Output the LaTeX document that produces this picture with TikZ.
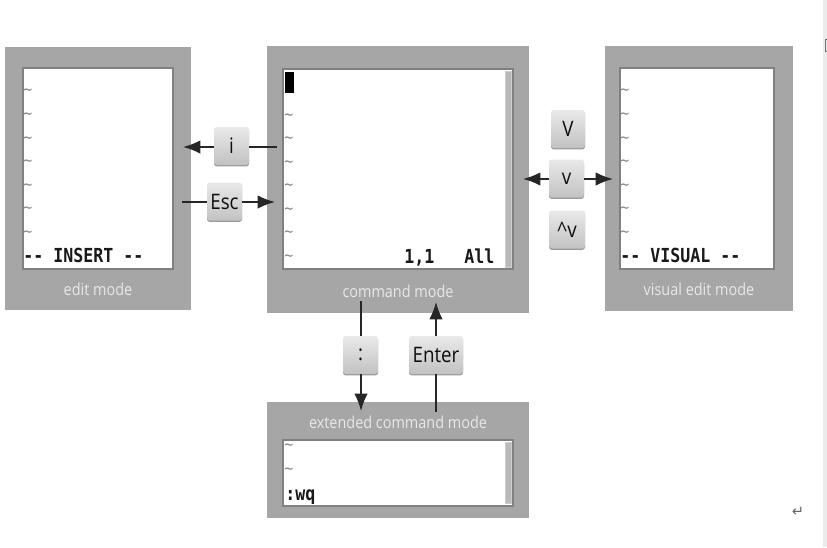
\documentclass[tikz,border=0pt]{standalone}
\usepackage{fontspec}
\setsansfont[FakeStretch=0.88]{Open Sans}
\setmonofont[FakeStretch=0.86]{DejaVu Sans Mono}
\newfontfamily\symbolfont{DejaVu Sans}
\usetikzlibrary{calc,shapes,arrows.meta,shadows}
\tikzset{
    sized/.style 2 args={minimum width=#1*0.75pt,minimum height=#2*0.75pt,inner sep=0pt,outer sep=0pt},
    panel/.style={fill=panelgray},
    screen/.style={fill=white,draw=screenedge,line width=1pt},
    modelabel/.style={text=labelgray,font=\sffamily\fontsize{12.3}{14}\selectfont,inner sep=0pt},
    keycap/.style={sized={#1}{38},rounded corners=2pt,top color=keylight,bottom color=keydark,
        general shadow={fill=keyedge,shadow yshift=-1pt},text=black!95,
        font=\sffamily\fontsize{16}{18}\selectfont},
    termtext/.style={font=\ttfamily\bfseries\fontsize{14.5}{16}\selectfont,text=black!90,inner sep=0pt},
    tilde/.style={font=\ttfamily\fontsize{13}{14}\selectfont,text=black!45,inner sep=0pt},
    scrollbar/.style={fill=barfill,draw=barfill!70,line width=0.4pt},
    flow/.style={draw=black!85,line width=1.2pt,-{Latex[length=13pt,width=10pt]}},
    plainflow/.style={draw=black!85,line width=1.2pt}
}
\definecolor{panelgray}{HTML}{A6A6A6}
\definecolor{screenedge}{HTML}{808080}
\definecolor{labelgray}{HTML}{E8E8E8}
\definecolor{keylight}{HTML}{E9E9E9}
\definecolor{keydark}{HTML}{C2C2C2}
\definecolor{keyedge}{HTML}{9A9A9A}
\definecolor{barfill}{HTML}{B9B9B9}
\begin{document}
\begin{tikzpicture}[x=0.75pt,y=-0.75pt]
    \useasboundingbox (0,0) rectangle (827,547);
    % page edge
    \fill[black!8] (823,0) rectangle (827,547);
    \draw[black!55,line width=0.5pt] (827,39) -- (825,39) -- (825,51) -- (827,51);
    \node[text=black!60,font=\symbolfont\fontsize{11}{12}\selectfont,inner sep=0pt] (ret) at (798,512) {↵};
    % panels
    \node[panel,sized={186}{263}] (edit) at (98,178.5) {};
    \node[panel,sized={262}{267}] (command) at (398,179.5) {};
    \node[panel,sized={188}{265}] (visual) at (699,178.5) {};
    \node[panel,sized={262}{116}] (extended) at (398,460) {};
    % screens
    \node[screen,sized={150}{201}] (editscreen) at (98,168.5) {};
    \node[screen,sized={230}{200}] (commandscreen) at (398,169) {};
    \node[screen,sized={154}{201}] (visualscreen) at (697,168.5) {};
    \node[screen,sized={230}{66}] (extendedscreen) at (398,473) {};
    \node[scrollbar,sized={6}{196}] (commandbar) at (508,169) {};
    \node[scrollbar,sized={6}{61}] (extendedbar) at (508,472.5) {};
    \node[fill=black,sized={9}{21}] (cursor) at (289.5,82.5) {};
    % empty lines
    \foreach \y in {92,116,140,163,187,210,234}
        \node[tilde,anchor=west] (edit\y) at (23,\y) {\textasciitilde};
    \foreach \y in {117,140,164,187,211,234,258}
        \node[tilde,anchor=west] (command\y) at (284,\y) {\textasciitilde};
    \foreach \y in {92,116,140,163,187,210,234}
        \node[tilde,anchor=west] (visual\y) at (620,\y) {\textasciitilde};
    \foreach \y in {447,471}
        \node[tilde,anchor=west] (extended\y) at (284,\y) {\textasciitilde};
    % terminal text
    \node[termtext,anchor=base west] (insert) at (23,262) {-- INSERT --};
    \node[termtext,anchor=base west] (visualtext) at (620,262) {-- VISUAL --};
    \node[termtext,anchor=base west] (position) at (404,263) {1,1};
    \node[termtext,anchor=base west] (all) at (464,263) {All};
    \node[termtext,anchor=base west] (wq) at (285,500) {:wq};
    % mode names
    \node[modelabel] (editname) at (98,289) {edit mode};
    \node[modelabel] (commandname) at (398,291) {command mode};
    \node[modelabel] (visualname) at (699,289) {visual edit mode};
    \node[modelabel] (extendedname) at (398,422) {extended command mode};
    % keys
    \node[keycap=35] (ikey) at (231.5,146) {i};
    \node[keycap=35] (esckey) at (224.5,201.5) {Esc};
    \node[keycap=34] (bigvkey) at (568,129) {V};
    \node[keycap=35] (vkey) at (566.5,178.5) {v};
    \node[keycap=36] (ctrlvkey) at (567,229.5) {\^{}v};
    \node[keycap=35] (colonkey) at (360.5,355) {:};
    \node[keycap=54] (enterkey) at (436,355) {Enter};
    % free ends
    \coordinate (itail) at (277,147);
    \coordinate (itip) at (183,147);
    \coordinate (esctail) at (182,202);
    \coordinate (esctip) at (275,202);
    \coordinate (vleft) at (523,179);
    \coordinate (vright) at (613,179);
    \coordinate (colontail) at (361,301);
    \coordinate (colontip) at (361,411);
    \coordinate (entertail) at (436,412);
    \coordinate (entertip) at (436,302);
    % connectors
    \draw[plainflow] (itail) -- (ikey.east |- itail);
    \draw[flow] (ikey.west |- itip) -- (itip);
    \draw[plainflow] (esctail) -- (esckey.west |- esctail);
    \draw[flow] (esckey.east |- esctip) -- (esctip);
    \draw[flow] (vkey.west |- vleft) -- (vleft);
    \draw[flow] (vkey.east |- vright) -- (vright);
    \draw[plainflow] (colontail) -- (colontail |- colonkey.north);
    \draw[flow] (colontip |- colonkey.south) -- (colontip);
    \draw[plainflow] (entertail) -- (entertail |- enterkey.south);
    \draw[flow] (entertip |- enterkey.north) -- (entertip);
\end{tikzpicture}
\end{document}
